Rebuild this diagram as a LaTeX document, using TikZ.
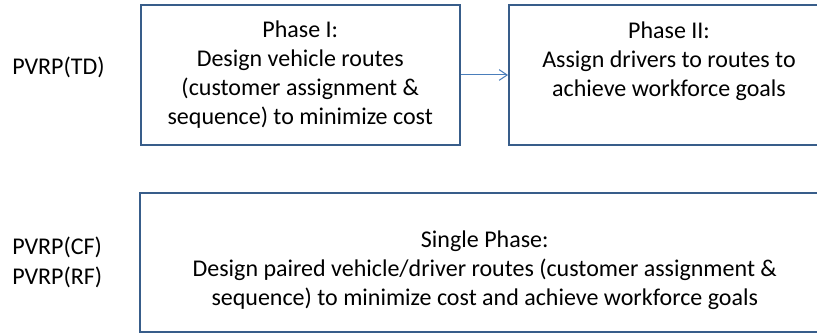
\documentclass[tikz,border=0pt]{standalone}
\usepackage{fontspec}
\setmainfont{Carlito}
\usetikzlibrary{arrows.meta, positioning}

\definecolor{boxblue}{HTML}{385D8A}
\definecolor{lineblue}{HTML}{4A7EBB}

\begin{document}
\begin{tikzpicture}[x=0.75pt, y=-0.75pt,
  box/.style={draw=boxblue, line width=1.5pt, inner sep=0pt},
  txt/.style={align=center, inner sep=0pt, font=\fontsize{18}{21.75}\selectfont},
  tag/.style={align=left, anchor=west, inner sep=0pt, font=\fontsize{18}{22.5}\selectfont},
  link/.style={draw=lineblue, line width=0.75pt, -{Straight Barb[length=6pt, width=8pt]}}]
\useasboundingbox (0,0) rectangle (817,334);

% Boxes
\node (p1) [box, minimum width=239.6pt, minimum height=104.8pt] at (300.25,75) {};
\node (p2) [box, minimum width=240pt, minimum height=104.8pt] at (669,75) {};
\node (sp) [box, minimum width=516.5pt, minimum height=104.6pt] at (484.75,262.75) {};

% Box texts
\node (t1) [txt] at (p1.center) {Phase I:\\Design vehicle routes\\(customer assignment \&\\sequence) to minimize cost};
\node (t2) [txt, yshift=10.5pt] at (p2.center) {Phase II:\\Assign drivers to routes to\\achieve workforce goals};
\node (t3) [txt, yshift=-5.5pt] at (sp.center) {Single Phase:\\Design paired vehicle/driver routes (customer assignment \&\\sequence) to minimize cost and achieve workforce goals};

% Arrow
\draw[link] (p1.east) -- (p2.west);

% Problem labels
\node (td) [tag] at (12,67) {PVRP(TD)};
\node (cf) [tag] at (12,262) {PVRP(CF)\\PVRP(RF)};
\end{tikzpicture}
\end{document}
